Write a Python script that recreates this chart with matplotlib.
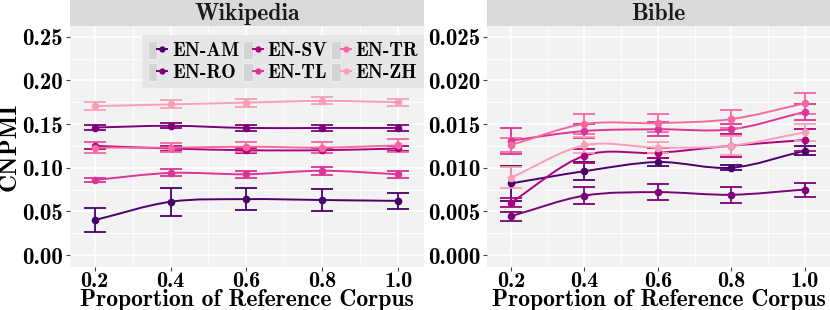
import numpy as np
import matplotlib
matplotlib.use("Agg")
import matplotlib.pyplot as plt
from matplotlib.path import Path
from matplotlib.patches import PathPatch, Rectangle
from matplotlib.legend_handler import HandlerTuple
from matplotlib.ticker import MultipleLocator

proportions = [0.2, 0.4, 0.6, 0.8, 1.0]
pairs = ["EN-AM", "EN-RO", "EN-SV", "EN-TL", "EN-TR", "EN-ZH"]
colors = ["#49006a", "#7a0177", "#ae017e", "#dd3497", "#f768a1", "#fa9fb5"]

wiki_mean = {
    "EN-AM": [0.040, 0.061, 0.064, 0.063, 0.062],
    "EN-RO": [0.146, 0.148, 0.1455, 0.1455, 0.1455],
    "EN-SV": [0.125, 0.122, 0.120, 0.120, 0.122],
    "EN-TL": [0.086, 0.094, 0.0925, 0.0965, 0.0925],
    "EN-TR": [0.123, 0.123, 0.124, 0.123, 0.1255],
    "EN-ZH": [0.1705, 0.1725, 0.1745, 0.1765, 0.175],
}
wiki_err = {
    "EN-AM": [0.0135, 0.016, 0.013, 0.0128, 0.009],
    "EN-RO": [0.003, 0.003, 0.003, 0.003, 0.003],
    "EN-SV": [0.004, 0.003, 0.003, 0.003, 0.003],
    "EN-TL": [0.0025, 0.004, 0.004, 0.0045, 0.004],
    "EN-TR": [0.006, 0.005, 0.006, 0.006, 0.007],
    "EN-ZH": [0.0045, 0.0045, 0.0045, 0.004, 0.004],
}
bible_mean = {
    "EN-AM": [0.0082, 0.0096, 0.01065, 0.0100, 0.01195],
    "EN-RO": [0.00445, 0.0068, 0.0072, 0.0069, 0.0075],
    "EN-SV": [0.0060, 0.01137, 0.0117, 0.01252, 0.01317],
    "EN-TL": [0.0131, 0.0142, 0.0144, 0.0144, 0.0164],
    "EN-TR": [0.0126, 0.0150, 0.0151, 0.01557, 0.01737],
    "EN-ZH": [0.00885, 0.01256, 0.0123, 0.01252, 0.01405],
}
bible_err = {
    "EN-AM": [0.0020, 0.0010, 0.0005, 0.0003, 0.0005],
    "EN-RO": [0.0005, 0.0010, 0.0009, 0.0009, 0.0008],
    "EN-SV": [0.0005, 0.0008, 0.0006, 0.0013, 0.0013],
    "EN-TL": [0.0015, 0.0008, 0.0008, 0.0006, 0.0009],
    "EN-TR": [0.0008, 0.0011, 0.0010, 0.0010, 0.0012],
    "EN-ZH": [0.0012, 0.0009, 0.0006, 0.0011, 0.0010],
}

FONT = "cmb10"
plt.rcParams["font.family"] = [FONT, "DejaVu Serif"]


def smooth_path(x, y):
    x = np.asarray(x, float)
    y = np.asarray(y, float)
    n = len(x)
    verts = [(x[0], y[0])]
    codes = [Path.MOVETO]
    m = np.zeros(n)
    for i in range(n):
        if i == 0:
            m[i] = (y[1] - y[0]) / (x[1] - x[0])
        elif i == n - 1:
            m[i] = (y[-1] - y[-2]) / (x[-1] - x[-2])
        else:
            m[i] = (y[i + 1] - y[i - 1]) / (x[i + 1] - x[i - 1])
    for i in range(n - 1):
        h = x[i + 1] - x[i]
        verts += [(x[i] + h / 3, y[i] + m[i] * h / 3),
                  (x[i + 1] - h / 3, y[i + 1] - m[i + 1] * h / 3),
                  (x[i + 1], y[i + 1])]
        codes += [Path.CURVE4] * 3
    return Path(verts, codes)


W, H = 830, 310
fig = plt.figure(figsize=(W / 100, H / 100), dpi=100)


def px(l, b, r, t):
    return [l / W, 1 - b / H, (r - l) / W, (b - t) / H]


AX_TOP, AX_BOT = 26, 267
panels = [
    ("Wikipedia", wiki_mean, wiki_err, (70, 424), 0.25, 0.05, "{:.2f}"),
    ("Bible", bible_mean, bible_err, (487, 830), 0.025, 0.005, "{:.3f}"),
]

for k, (title, means, errs, (L, R), top, step, fmt) in enumerate(panels):
    rect = px(L, AX_BOT, R, AX_TOP)
    ax = fig.add_axes(rect)
    ax.set_facecolor("#F2F2F2")
    for s in ax.spines.values():
        s.set_visible(False)
    ax.set_xlim(0.135, 1.068)
    ax.set_ylim(-top * 0.0548, top * 1.049)
    ax.xaxis.set_minor_locator(MultipleLocator(0.1))
    ax.yaxis.set_minor_locator(MultipleLocator(step / 2))
    ax.set_xticks(proportions)
    ax.set_xticklabels(["{:.1f}".format(p) for p in proportions])
    yt = np.arange(0, top + step / 2, step)
    ax.set_yticks(yt)
    ax.set_yticklabels([fmt.format(v) for v in yt])
    ax.grid(True, which="major", color="white", lw=1.2)
    ax.grid(True, which="minor", color="white", lw=0.6)
    ax.set_axisbelow(True)
    ax.tick_params(which="minor", length=0)
    ax.tick_params(which="major", axis="both", length=3, color="#444444",
                   labelsize=16.5, pad=2)
    ax.tick_params(axis="x", labelsize=16, pad=0.5)
    ax.set_xlabel("Proportion of Reference Corpus", fontsize=17, va="baseline")
    ax.xaxis.set_label_coords(0.5, -(306 - AX_BOT) / (AX_BOT - AX_TOP))
    handles = []
    for name, c in zip(pairs, colors):
        ax.add_patch(PathPatch(smooth_path(proportions, means[name]),
                               fill=False, edgecolor=c, lw=1.4, zorder=3))
        ax.errorbar(proportions, means[name], yerr=errs[name], fmt="none",
                    ecolor=c, elinewidth=1.3, capsize=8, capthick=1.3, zorder=3)
        ax.plot(proportions, means[name], "o", color=c, ms=4.5, ls="none",
                zorder=4)
        box = Rectangle((0, 0), 1, 1, facecolor="#D4D4D4", edgecolor="#EDEDED",
                        lw=0.8)
        lh, = ax.plot([], [], "-o", color=c, ms=3.5, lw=1.4)
        handles.append((box, lh))
    # strip
    sx = fig.add_axes([rect[0], 1 - AX_TOP / H, rect[2], AX_TOP / H])
    sx.set_facecolor("#D9D9D9")
    sx.set_xticks([]); sx.set_yticks([])
    for s in sx.spines.values():
        s.set_visible(False)
    sx.text(0.5, 0.47, title, ha="center", va="center", fontsize=17,
            transform=sx.transAxes, color="#1A1A1A")
    if k == 0:
        ax.set_ylabel("CNPMI", fontsize=18, va="center")
        ax.yaxis.set_label_coords(-(L - 10) / (R - L), 0.5)
        leg = ax.legend(handles, pairs, ncol=3, loc="upper right",
                        bbox_to_anchor=(1.0, 0.963), fontsize=14,
                        handler_map={tuple: HandlerTuple(ndivide=None, pad=0)},
                        frameon=True, fancybox=False, handlelength=1.0,
                        handleheight=1.05,
                        handletextpad=0.25, columnspacing=0.2,
                        labelspacing=0.12, borderpad=0.3, borderaxespad=0.0)
        leg.get_frame().set_facecolor("#E6E6E6")
        leg.get_frame().set_edgecolor("none")
        leg.get_frame().set_alpha(1)

fig.savefig("out.png", dpi=100)
